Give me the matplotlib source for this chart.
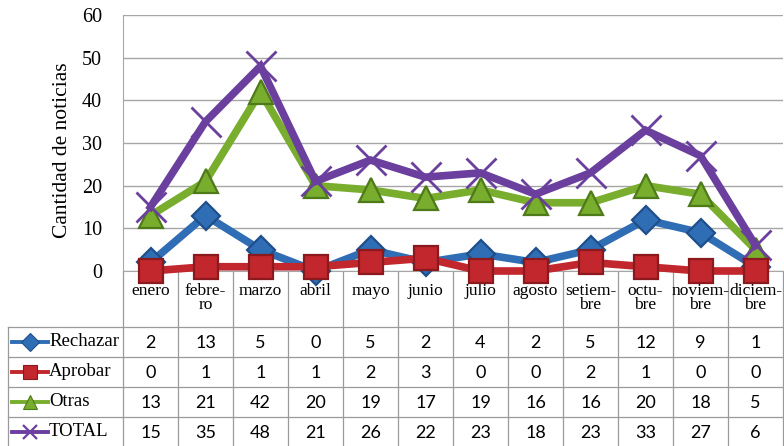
import matplotlib
matplotlib.use("Agg")
import matplotlib.pyplot as plt
from matplotlib.lines import Line2D
import numpy as np

# datos
meses = ["enero", "febre-\nro", "marzo", "abril", "mayo", "junio", "julio",
         "agosto", "setiem-\nbre", "octu-\nbre", "noviem-\nbre", "diciem-\nbre"]
rechazar = [2, 13, 5, 0, 5, 2, 4, 2, 5, 12, 9, 1]
aprobar = [0, 1, 1, 1, 2, 3, 0, 0, 2, 1, 0, 0]
otras = [13, 21, 42, 20, 19, 17, 19, 16, 16, 20, 18, 5]
total = [15, 35, 48, 21, 26, 22, 23, 18, 23, 33, 27, 6]

# nombre, valores, color, borde, marcador, tamaño, zorder
series = [
    ("Rechazar", rechazar, "#2f6db5", "#1f4f8a", "D", 14, 3),
    ("Aprobar", aprobar, "#c1272d", "#8a1a1e", "s", 17, 6),
    ("Otras", otras, "#78ad2e", "#4f7a1a", "^", 17, 4),
    ("TOTAL", total, "#6b3f9e", "#6b3f9e", "x", 21, 5),
]

W, H = 784, 446
serif = "Liberation Serif"
sans = "Lato"

fig = plt.figure(figsize=(W / 100, H / 100), dpi=100)

# area del grafico (en pixeles)
x0, x1 = 123, 783
y_top, y_axis = 15, 271
ax = fig.add_axes([x0 / W, 1 - y_axis / H, (x1 - x0) / W, (y_axis - y_top) / H])
n = len(meses)
x = np.arange(n)
ax.set_xlim(-0.5, n - 0.5)
ax.set_ylim(0, 60)
ax.set_yticks(range(0, 61, 10))
ax.set_yticklabels([str(v) for v in range(0, 61, 10)], family=serif, fontsize=14.5)
ax.tick_params(axis="y", length=0, pad=15)
ax.set_xticks([])
ax.grid(axis="y", color="#a6a6a6", lw=1.0)
ax.set_axisbelow(True)
for s in ["top", "right"]:
    ax.spines[s].set_visible(False)
ax.spines["left"].set_color("#a6a6a6")
ax.spines["bottom"].set_color("#a6a6a6")
ax.set_ylabel("Cantidad de noticias", family=serif, fontsize=15.5)
ax.yaxis.set_label_coords(-0.077, 0.47)

for name, vals, col, edge, mk, ms, z in series:
    if mk == "x":
        ax.plot(x, vals, color=col, lw=5.5, marker=mk, ms=ms, mew=2.0,
                zorder=z, clip_on=False, solid_joinstyle="miter")
    else:
        ax.plot(x, vals, color=col, lw=5.5, marker=mk, ms=ms, mec=edge,
                mew=1.6, zorder=z, clip_on=False, solid_joinstyle="miter")

# tabla de datos (coordenadas en pixeles)
tab = fig.add_axes([0, 0, 1, 1], zorder=-1)
tab.set_xlim(0, W)
tab.set_ylim(H, 0)
tab.axis("off")
gc = "#9a9a9a"
col_w = (x1 - x0) / n
row_top = 327
row_h = 30
n_rows = len(series)
bottom = row_top + row_h * n_rows

for i in range(n + 1):
    xx = x0 + i * col_w
    tab.plot([xx, xx], [y_axis, bottom], color=gc, lw=0.9)
tab.plot([8, 8], [row_top, bottom], color=gc, lw=0.9)
for r in range(n_rows + 1):
    yy = row_top + r * row_h
    tab.plot([8, x1], [yy, yy], color=gc, lw=0.9)

for i, m in enumerate(meses):
    tab.text(x0 + (i + 0.5) * col_w, 283, m, ha="center", va="top",
             family=serif, fontsize=12.5, linespacing=0.8)

for r, (name, vals, col, edge, mk, ms, z) in enumerate(series):
    yc = row_top + (r + 0.5) * row_h
    tab.add_line(Line2D([12, 48], [yc, yc], color=col, lw=2.8))
    if mk == "x":
        tab.add_line(Line2D([30], [yc], color=col, marker=mk, ms=10, mew=1.6))
    else:
        tab.add_line(Line2D([30], [yc], color=col, marker=mk, ms=9.5,
                            mec=edge, mew=0.8))
    tab.text(49, yc, name, ha="left", va="center", family=serif, fontsize=13.5)
    for i, v in enumerate(vals):
        tab.text(x0 + (i + 0.5) * col_w, yc + 1, str(v), ha="center", va="center",
                 family=sans, fontsize=13)

fig.savefig("out.png", dpi=100)
